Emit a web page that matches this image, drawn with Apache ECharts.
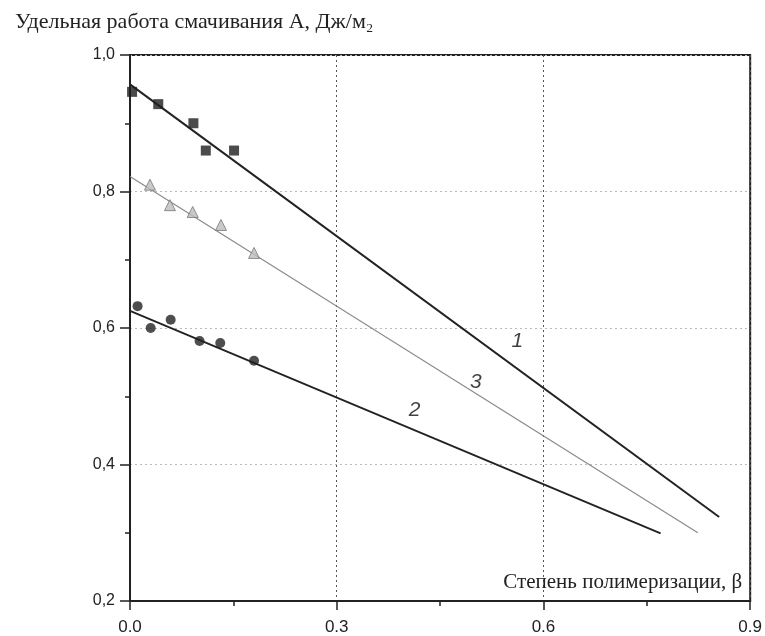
<!DOCTYPE html>
<html>
<head>
<meta charset="utf-8">
<script src="https://cdn.jsdelivr.net/npm/echarts@6/dist/echarts.min.js"></script>
<style>
html,body{margin:0;padding:0;background:#fff;}
#chart{width:765px;height:636px;}
</style>
</head>
<body>
<div id="chart"></div>
<script>
// Data
var xTicks = [0.0, 0.3, 0.6, 0.9];
var yTicks = [0.2, 0.4, 0.6, 0.8, 1.0];

var squares1 = [[0.003, 0.946], [0.041, 0.928], [0.092, 0.900], [0.110, 0.860], [0.151, 0.860]];
var circles2 = [[0.011, 0.632], [0.030, 0.600], [0.059, 0.612], [0.101, 0.581], [0.131, 0.578], [0.180, 0.552]];
var triangles3 = [[0.029, 0.810], [0.058, 0.780], [0.091, 0.770], [0.132, 0.751], [0.180, 0.710]];

var fit1 = [[0.0, 0.957], [0.855, 0.323]];
var fit2 = [[0.0, 0.625], [0.770, 0.299]];
var fit3 = [[0.0, 0.822], [0.824, 0.300]];

var curveLabels = ['1', '2', '3'];
var curveLabelPos = [[0.562, 0.580], [0.413, 0.480], [0.502, 0.521]];

var yTitle = 'Удельная работа смачивания А, Дж/м₂';
var xTitle = 'Степень полимеризации, β';

var chart = echarts.init(document.getElementById('chart'), null, {renderer: 'canvas'});

var axisColor = '#222';
var labelData = curveLabels.map(function (n, i) { return {name: n, value: curveLabelPos[i]}; });

var option = {
  backgroundColor: '#fff',
  animation: false,
  grid: {left: 130, right: 14, top: 55, bottom: 35, show: true, borderColor: axisColor, borderWidth: 2, backgroundColor: 'transparent'},
  xAxis: {
    type: 'value', min: xTicks[0], max: xTicks[xTicks.length - 1], interval: 0.3,
    axisLine: {show: true, onZero: false, lineStyle: {color: axisColor, width: 2}},
    axisTick: {show: true, inside: false, length: 9, lineStyle: {color: axisColor, width: 1.5}},
    minorTick: {show: true, splitNumber: 2, length: 5, lineStyle: {color: axisColor, width: 1.5}},
    axisLabel: {color: '#222', fontFamily: 'Liberation Sans, Arial, sans-serif', fontSize: 17, margin: 18,
      formatter: function (v) { return v.toFixed(1); }},
    splitLine: {show: true, lineStyle: {color: '#555', type: [2, 3], width: 1}},
    name: xTitle, nameLocation: 'end', nameGap: 0,
    nameTextStyle: {fontFamily: 'Liberation Serif, Times New Roman, serif', fontSize: 21, color: '#222',
      align: 'right', verticalAlign: 'bottom', padding: [0, 8, 8, 0]}
  },
  yAxis: {
    type: 'value', min: yTicks[0], max: yTicks[yTicks.length - 1], interval: 0.2,
    axisLine: {show: true, onZero: false, lineStyle: {color: axisColor, width: 2}},
    axisTick: {show: true, inside: false, length: 10, lineStyle: {color: axisColor, width: 1.5}},
    minorTick: {show: true, splitNumber: 2, length: 5, lineStyle: {color: axisColor, width: 1.5}},
    axisLabel: {color: '#222', fontFamily: 'Liberation Sans, Arial, sans-serif', fontSize: 16, margin: 15,
      formatter: function (v) { return v.toFixed(1).replace('.', ','); }},
    splitLine: {show: true, lineStyle: {color: '#bbb', type: [2, 3], width: 1}},
    name: yTitle, nameLocation: 'end', nameGap: 22,
    nameTextStyle: {fontFamily: 'Liberation Serif, Times New Roman, serif', fontSize: 22, color: '#222',
      align: 'left', padding: [0, 0, 0, -115]}
  },
  series: [
    {type: 'line', data: fit1, symbol: 'none', lineStyle: {color: '#222', width: 2}, z: 3},
    {type: 'line', data: fit2, symbol: 'none', lineStyle: {color: '#222', width: 1.8}, z: 3},
    {type: 'line', data: fit3, symbol: 'none', lineStyle: {color: '#888', width: 1.1}, z: 3},
    {type: 'scatter', data: squares1, symbol: 'rect', symbolSize: 10, itemStyle: {color: '#1e1e1e'}, z: 4},
    {type: 'scatter', data: circles2, symbol: 'circle', symbolSize: 10, itemStyle: {color: '#222'}, z: 4},
    {type: 'scatter', data: triangles3, symbol: 'triangle', symbolSize: 11,
      itemStyle: {color: '#bdbdbd', borderColor: '#777', borderWidth: 1}, z: 4},
    {type: 'scatter', data: labelData, symbolSize: 0, silent: true, z: 5,
      label: {show: true, position: 'inside', formatter: '{b}', color: '#111', fontSize: 21,
        fontStyle: 'italic', fontFamily: 'Liberation Sans, Arial, sans-serif'}}
  ]
};
chart.setOption(option);
</script>
</body>
</html>
